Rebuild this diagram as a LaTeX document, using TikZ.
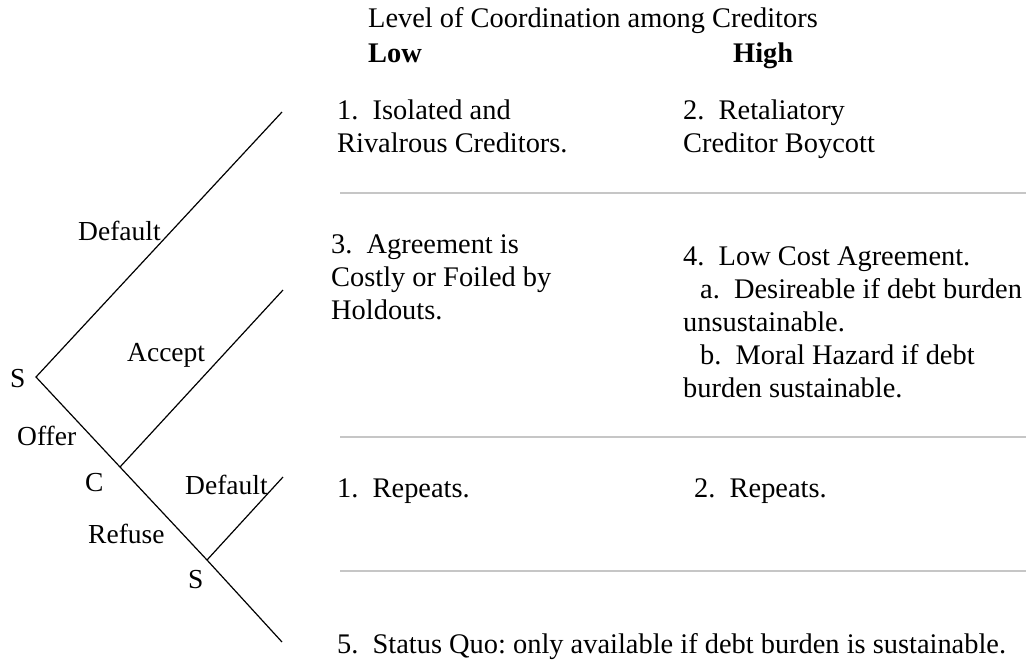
\documentclass[tikz,border=0pt]{standalone}
\usepackage{fontspec}
\setmainfont{Liberation Serif}
\newcommand\blk[1]{\vtop{\halign{##\hfil\cr#1\crcr}}}
\definecolor{rulegray}{RGB}{198,198,198}
\begin{document}
\frenchspacing
\begin{tikzpicture}[x=1pt,y=-1pt,
  txt/.style={anchor=base west, inner sep=0pt, font=\fontsize{28.4}{33}\selectfont},
  lbl/.style={anchor=base west, inner sep=0pt, font=\fontsize{27.5}{33}\selectfont},
  branch/.style={line width=1.2pt, draw=black},
  rule/.style={line width=1.5pt, draw=rulegray}]
\useasboundingbox (0,0) rectangle (1026,662);
% tree vertices
\coordinate (s1) at (36,377);
\coordinate (c) at (120,467);
\coordinate (s2) at (207,560);
\coordinate (endq) at (282,642);
\coordinate (endd1) at (282,112);
\coordinate (enda) at (283,290);
\coordinate (endd2) at (283,477);
% branches
\draw[branch] (endd1) -- (s1) -- (c) -- (s2) -- (endq);
\draw[branch] (c) -- (enda);
\draw[branch] (s2) -- (endd2);
% tree labels
\node[lbl] (ls1) at (10,387) {S};
\node[lbl] (ldef1) at (78,240) {Default};
\node[lbl] (lacc) at (127,361) {Accept};
\node[lbl] (loff) at (17,445) {Offer};
\node[lbl] (lc) at (85,491) {C};
\node[lbl] (ldef2) at (185,494) {Default};
\node[lbl] (lref) at (88,543) {Refuse};
\node[lbl] (ls2) at (188,588) {S};
% header
\node[txt] (head) at (368,27) {Level of Coordination among Creditors};
\node[txt] (low) at (368,62) {\textbf{Low}};
\node[txt] (high) at (733,62) {\textbf{High}};
% rules
\coordinate (r1a) at (340,193); \coordinate (r1b) at (1026,193);
\coordinate (r2a) at (340,437); \coordinate (r2b) at (1026,437);
\coordinate (r3a) at (340,571); \coordinate (r3b) at (1026,571);
\draw[rule] (r1a) -- (r1b);
\draw[rule] (r2a) -- (r2b);
\draw[rule] (r3a) -- (r3b);
% cells
\node[txt] (b1) at (337,119) {\blk{1.\ \ Isolated and\cr Rivalrous Creditors.}};
\node[txt] (b2) at (683,119) {\blk{2.\ \ Retaliatory\cr Creditor Boycott}};
\node[txt] (b3) at (331,253) {\blk{3.\ \ Agreement is\cr Costly or Foiled by\cr Holdouts.}};
\node[txt] (b4) at (683,265) {\blk{4.\ \ Low Cost Agreement.\cr
  \hspace*{17pt}a.\ \ Desireable if debt burden\cr
  unsustainable.\cr
  \hspace*{17pt}b.\ \ Moral Hazard if debt\cr
  burden sustainable.}};
\node[txt] (b5) at (337,497) {1.\ \ Repeats.};
\node[txt] (b6) at (694,497) {2.\ \ Repeats.};
\node[txt] (b7) at (337,653) {5.\ \ Status Quo: only available if debt burden is sustainable.};
\end{tikzpicture}
\end{document}
